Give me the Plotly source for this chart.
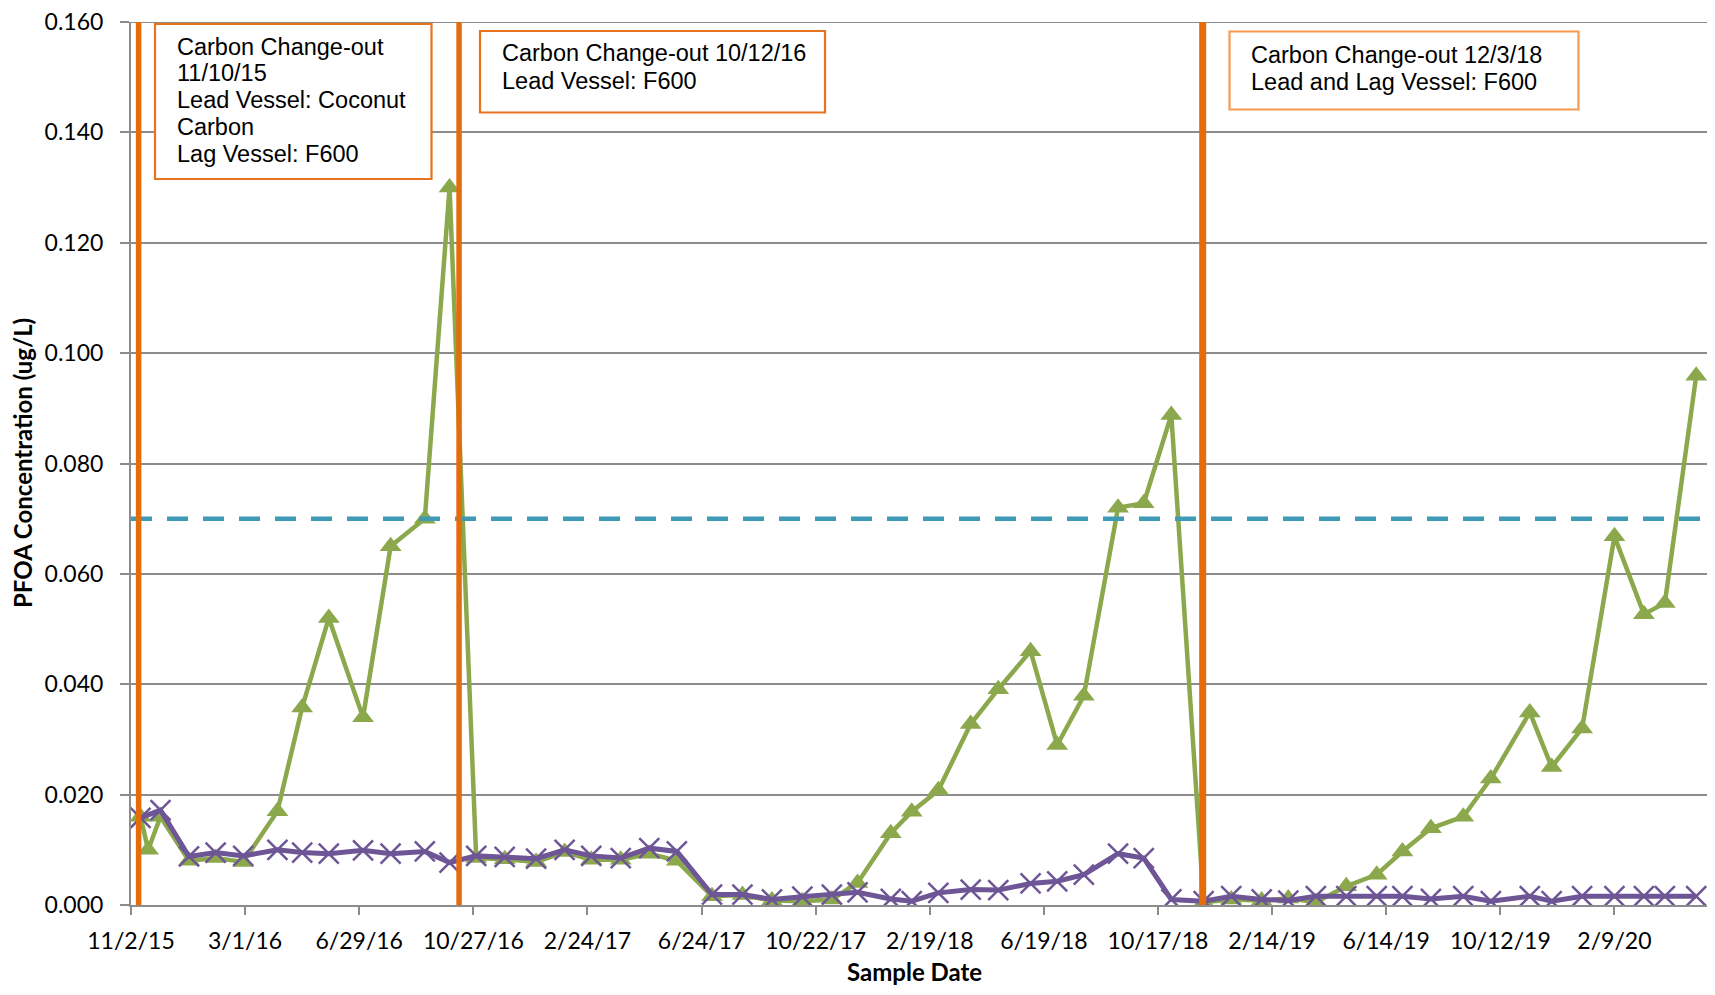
import plotly.graph_objects as go

# ---------------- data ----------------
purple_dates = [
    "2015-11-12", "2015-12-03", "2016-01-02", "2016-01-30", "2016-02-28", "2016-04-04",
    "2016-04-30", "2016-05-28", "2016-07-03", "2016-08-01", "2016-09-06", "2016-10-02",
    "2016-10-30", "2016-11-29", "2017-01-01", "2017-01-31", "2017-02-28", "2017-03-31",
    "2017-04-30", "2017-05-29", "2017-07-05", "2017-08-06", "2017-09-06", "2017-10-08",
    "2017-11-08", "2017-12-05", "2018-01-09", "2018-01-31", "2018-02-28", "2018-04-03",
    "2018-05-02", "2018-06-05", "2018-07-03", "2018-07-31", "2018-09-05", "2018-10-02",
    "2018-10-31", "2018-12-04", "2019-01-02", "2019-02-03", "2019-03-03", "2019-04-01",
    "2019-05-03", "2019-06-04", "2019-07-01", "2019-07-31", "2019-09-03", "2019-10-02",
    "2019-11-12", "2019-12-05", "2020-01-06", "2020-02-09", "2020-03-11", "2020-04-02",
    "2020-05-05",
]
purple_vals = [
    0.0158, 0.0172, 0.0088, 0.0095, 0.0089, 0.0100, 0.0095, 0.0093, 0.0099, 0.0093,
    0.0097, 0.0077, 0.0089, 0.0087, 0.0084, 0.0100, 0.0089, 0.0085, 0.0103, 0.0097,
    0.0019, 0.0019, 0.0010, 0.0015, 0.0019, 0.0023, 0.0011, 0.0007, 0.0022, 0.0028,
    0.0027, 0.0039, 0.0043, 0.0055, 0.0093, 0.0085, 0.0010, 0.0007, 0.0016, 0.0010,
    0.0008, 0.0016, 0.0016, 0.0016, 0.0016, 0.0011, 0.0016, 0.0007, 0.0016, 0.0007,
    0.0016, 0.0016, 0.0016, 0.0016, 0.0016,
]

green_dates = [
    "2015-11-12", "2015-11-20", "2015-12-03", "2016-01-02", "2016-01-30", "2016-02-28",
    "2016-04-04", "2016-04-30", "2016-05-28", "2016-07-03", "2016-08-01", "2016-09-06",
    "2016-10-02", "2016-10-30", "2016-11-29", "2017-01-01", "2017-01-31", "2017-02-28",
    "2017-03-31", "2017-04-30", "2017-05-29", "2017-07-05", "2017-08-06", "2017-09-06",
    "2017-10-08", "2017-11-08", "2017-12-05", "2018-01-09", "2018-01-31", "2018-02-28",
    "2018-04-03", "2018-05-02", "2018-06-05", "2018-07-03", "2018-07-31", "2018-09-05",
    "2018-10-02", "2018-10-31", "2018-12-04", "2019-01-02", "2019-02-03", "2019-03-03",
    "2019-04-01", "2019-05-03", "2019-06-04", "2019-07-01", "2019-07-31", "2019-09-03",
    "2019-10-02", "2019-11-12", "2019-12-05", "2020-01-06", "2020-02-09", "2020-03-11",
    "2020-04-02", "2020-05-05",
]
green_vals = [
    0.0160, 0.0100, 0.0160, 0.0080, 0.0085, 0.0078, 0.0170, 0.0358, 0.0520, 0.0340,
    0.0650, 0.0700, 0.1300, 0.0085, 0.0083, 0.0078, 0.0096, 0.0082, 0.0082, 0.0093,
    0.0080, 0.0016, 0.0018, 0.0008, 0.0007, 0.0010, 0.0040, 0.0130, 0.0169, 0.0208,
    0.0328, 0.0391, 0.0460, 0.0290, 0.0379, 0.0720, 0.0728, 0.0888, 0.0005, 0.0010,
    0.0008, 0.0012, 0.0005, 0.0034, 0.0055, 0.0097, 0.0139, 0.0160, 0.0229, 0.0349,
    0.0250, 0.0320, 0.0668, 0.0527, 0.0547, 0.0959,
]

changeout_dates = ["2015-11-10", "2016-10-12", "2018-12-03"]
limit_value = 0.070

x_start = "2015-11-02"
x_end = "2020-05-16 08:00"
y_min, y_max = 0.0, 0.160
y_ticks = [0.000, 0.020, 0.040, 0.060, 0.080, 0.100, 0.120, 0.140, 0.160]
y_ticktext = ["0.000", "0.020", "0.040", "0.060", "0.080", "0.100", "0.120", "0.140", "0.160"]

box_texts = [
    ["Carbon Change-out", "11/10/15", "Lead Vessel: Coconut", "Carbon", "Lag Vessel: F600"],
    ["Carbon Change-out 10/12/16", "Lead Vessel: F600"],
    ["Carbon Change-out 12/3/18", "Lead and Lag Vessel: F600"],
]

y_title = "PFOA Concentration (ug/L)"
x_title = "Sample Date"

# ---------------- style / layout ----------------
OFF = 8                      # page body margin
W, H = 1699, 979
ML, MR, MT, MB = 123, 0, 14, 82
PW, PH = W - ML - MR, H - MT - MB


def px(x):
    """screen pixel x -> paper"""
    return (x - OFF - ML) / PW


def py(y):
    """screen pixel y -> paper"""
    return (OFF + MT + PH - y) / PH


GREEN = "#8BA94C"
PURPLE = "#6E5596"
ORANGE = "#E46C0A"
TEAL = "#3E9AB5"
GRID = "#8C8C8C"
TICKFONT = dict(family="Lato", size=23, color="black")
BOXFONT = dict(family="Liberation Sans", size=23.5, color="black")

fig = go.Figure()

fig.add_trace(go.Scatter(
    x=green_dates, y=green_vals, mode="lines+markers",
    line=dict(color=GREEN, width=4.5),
    marker=dict(symbol="triangle-up", size=19, color=GREEN),
    showlegend=False, hoverinfo="x+y",
))
fig.add_trace(go.Scatter(
    x=purple_dates, y=purple_vals, mode="lines+markers",
    line=dict(color=PURPLE, width=5),
    marker=dict(symbol="x-thin", size=20, color=PURPLE, line=dict(width=2.5, color=PURPLE)),
    showlegend=False, hoverinfo="x+y",
))

shapes = []
# top gridline (edge of plot area)
shapes.append(dict(type="line", xref="paper", x0=0, x1=1, yref="y", y0=y_max, y1=y_max,
                   line=dict(color=GRID, width=2), layer="below"))
shapes.append(dict(type="line", xref="paper", x0=0, x1=1, yref="y", y0=limit_value, y1=limit_value,
                   line=dict(color=TEAL, width=4.5, dash="21px,15px"), layer="above"))
cw = [5.5, 5.5, 7]
for d, w in zip(changeout_dates, cw):
    shapes.append(dict(type="line", xref="x", x0=d, x1=d, yref="y", y0=y_min, y1=y_max,
                       line=dict(color=ORANGE, width=w), layer="above"))

boxes = [
    dict(x0=155, x1=431.5, y0=24, y1=179, color="#E8731E", tx=175, ty=[46.5, 73.5, 100.5, 127.5, 154.5]),
    dict(x0=480, x1=825, y0=31, y1=112.5, color="#E8731E", tx=500, ty=[53, 80.5]),
    dict(x0=1229.5, x1=1578.5, y0=31.5, y1=109.5, color="#F7994F", tx=1249, ty=[54.5, 81.5]),
]
annotations = []
for b, lines in zip(boxes, box_texts):
    shapes.append(dict(type="rect", xref="paper", yref="paper",
                       x0=px(b["x0"]), x1=px(b["x1"]), y0=py(b["y1"]), y1=py(b["y0"]),
                       line=dict(color=b["color"], width=2.2), fillcolor="white", layer="above"))
    for t, yy in zip(lines, b["ty"]):
        annotations.append(dict(text=t, xref="paper", yref="paper", x=px(b["tx"]), y=py(yy),
                                xanchor="left", yanchor="middle", showarrow=False, font=BOXFONT))

annotations.append(dict(text="<b>%s</b>" % y_title, xref="paper", yref="paper", x=px(22), y=py(463),
                        xanchor="center", yanchor="middle", textangle=-90, showarrow=False,
                        font=dict(family="Lato", size=24, color="black")))
annotations.append(dict(text="<b>%s</b>" % x_title, xref="paper", yref="paper", x=px(914), y=py(971),
                        xanchor="center", yanchor="middle", showarrow=False,
                        font=dict(family="Lato", size=24, color="black")))

fig.update_layout(
    width=W, height=H,
    margin=dict(l=ML, r=MR, t=MT, b=MB, autoexpand=False),
    paper_bgcolor="white", plot_bgcolor="white",
    shapes=shapes, annotations=annotations,
    showlegend=False,
    xaxis=dict(
        type="date", range=[x_start, x_end], tick0=x_start, dtick=120 * 86400000,
        tickformat="%-m/%-d/%y", ticks="outside", ticklen=8, tickwidth=2, tickcolor=GRID,
        showline=True, linecolor=GRID, linewidth=2, showgrid=False, zeroline=False,
        tickfont=TICKFONT, ticklabelstandoff=6,
    ),
    yaxis=dict(
        range=[y_min, y_max], tickmode="array", tickvals=y_ticks, ticktext=y_ticktext,
        ticks="outside", ticklen=9, tickwidth=2, tickcolor=GRID,
        showline=True, linecolor=GRID, linewidth=2, showgrid=True, gridcolor=GRID, gridwidth=2,
        zeroline=False, tickfont=TICKFONT, ticklabelstandoff=12, ticklabeloverflow="allow",
    ),
)

fig.write_html("out.html")
